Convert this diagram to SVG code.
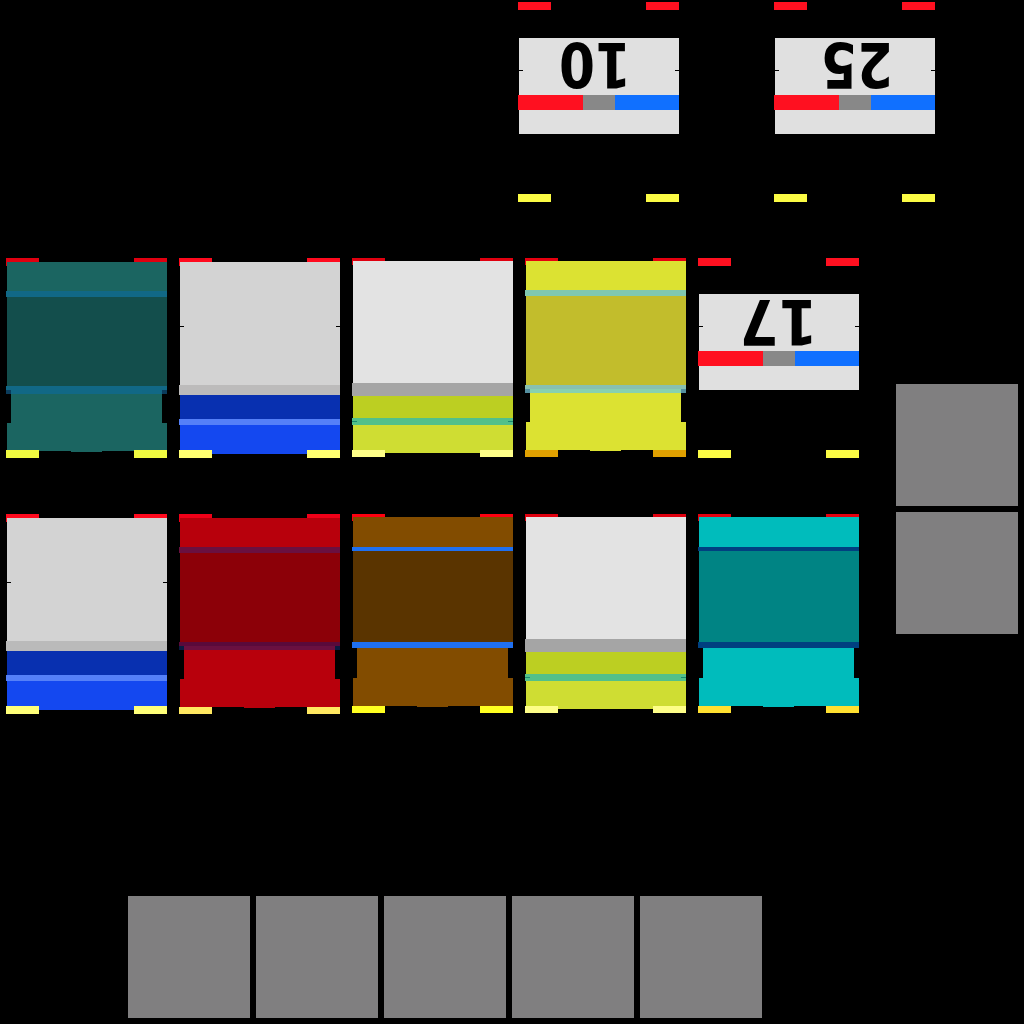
<svg xmlns="http://www.w3.org/2000/svg" width="1024" height="1024" viewBox="0 0 1024 1024">
<style>
.sq{fill:#807f80}
.pbg{fill:#e0e0e0}
.pr{fill:#ff1020}
.pg{fill:#888888}
.pb{fill:#1070ff}
.py{fill:#fbfb44}
.tick{fill:#000}
.num{font-family:"DejaVu Sans","Liberation Sans",sans-serif;font-weight:bold;font-size:62px;fill:#000;text-anchor:middle}
</style>
<rect width="1024" height="1024" fill="#000"/>

<!-- number plates -->
<g id="plate-10">
<rect class="pr" x="518" y="2" width="33" height="8"/><rect class="pr" x="646" y="2" width="33" height="8"/>
<rect class="pbg" x="519" y="38" width="160" height="96"/>
<rect class="tick" x="519" y="70" width="4" height="1"/><rect class="tick" x="675" y="70" width="4" height="1"/>
<rect class="pr" x="518" y="95" width="65" height="15"/><rect class="pg" x="583" y="95" width="32" height="15"/><rect class="pb" x="615" y="95" width="64" height="15"/>
<text class="num" x="595" y="88" textLength="72" lengthAdjust="spacingAndGlyphs" transform="rotate(180 595 65.5)">10</text>
<rect class="py" x="518" y="194" width="33" height="8"/><rect class="py" x="646" y="194" width="33" height="8"/>
</g>
<g id="plate-25">
<rect class="pr" x="774" y="2" width="33" height="8"/><rect class="pr" x="902" y="2" width="33" height="8"/>
<rect class="pbg" x="775" y="38" width="160" height="96"/>
<rect class="tick" x="775" y="70" width="4" height="1"/><rect class="tick" x="931" y="70" width="4" height="1"/>
<rect class="pr" x="774" y="95" width="65" height="15"/><rect class="pg" x="839" y="95" width="32" height="15"/><rect class="pb" x="871" y="95" width="64" height="15"/>
<text class="num" x="857" y="88" textLength="72" lengthAdjust="spacingAndGlyphs" transform="rotate(180 857 65.5)">25</text>
<rect class="py" x="774" y="194" width="33" height="8"/><rect class="py" x="902" y="194" width="33" height="8"/>
</g>
<g id="plate-17">
<rect class="pr" x="698" y="258" width="33" height="8"/><rect class="pr" x="826" y="258" width="33" height="8"/>
<rect class="pbg" x="699" y="294" width="160" height="96"/>
<rect class="tick" x="699" y="326" width="4" height="1"/><rect class="tick" x="855" y="326" width="4" height="1"/>
<rect class="pr" x="698" y="351" width="65" height="15"/><rect class="pg" x="763" y="351" width="32" height="15"/><rect class="pb" x="795" y="351" width="64" height="15"/>
<text class="num" x="778.5" y="344.5" textLength="78" lengthAdjust="spacingAndGlyphs" transform="rotate(180 778.5 322)">17</text>
<rect class="py" x="698" y="450" width="33" height="8"/><rect class="py" x="826" y="450" width="33" height="8"/>
</g>

<!-- type A cars (car 1 coordinates) -->
<g id="car-teal">
<rect fill="#e00010" x="6" y="258" width="33" height="8"/><rect fill="#e00010" x="134" y="258" width="33" height="8"/>
<rect fill="#1b6561" x="7" y="262" width="160" height="29"/>
<rect fill="#116886" x="6" y="291" width="161" height="6"/>
<rect fill="#134e4c" x="7" y="297" width="160" height="89"/>
<rect fill="#116886" x="6" y="386" width="161" height="4"/>
<rect fill="#0b3c5c" x="6" y="390" width="5" height="4"/><rect fill="#0b3c5c" x="162" y="390" width="5" height="4"/>
<rect fill="#116886" x="11" y="390" width="151" height="4"/>
<rect fill="#1b6561" x="11" y="394" width="151" height="29"/>
<rect fill="#1b6561" x="7" y="423" width="160" height="28"/>
<rect fill="#1b6561" x="71" y="451" width="31" height="1"/>
<rect fill="#f0fa40" x="6" y="450" width="33" height="8"/><rect fill="#f0fa40" x="134" y="450" width="33" height="8"/>
</g>
<g id="car-yellow" transform="translate(519,-1)">
<rect fill="#e6000f" x="6" y="259" width="33" height="7"/><rect fill="#e6000f" x="134" y="259" width="33" height="7"/>
<rect fill="#dce232" x="7" y="262" width="160" height="29"/>
<rect fill="#80c8b0" x="6" y="291" width="161" height="6"/>
<rect fill="#c2bd2c" x="7" y="297" width="160" height="89"/>
<rect fill="#88c0b0" x="6" y="386" width="161" height="4"/>
<rect fill="#5590a0" x="6" y="390" width="5" height="4"/><rect fill="#5590a0" x="162" y="390" width="5" height="4"/>
<rect fill="#88d0b0" x="11" y="390" width="151" height="4"/>
<rect fill="#dce232" x="11" y="394" width="151" height="29"/>
<rect fill="#dce232" x="7" y="423" width="160" height="28"/>
<rect fill="#dce232" x="71" y="451" width="31" height="1"/>
<rect fill="#e0a000" x="6" y="451" width="33" height="7"/><rect fill="#e0a000" x="134" y="451" width="33" height="7"/>
</g>
<g id="car-red" transform="translate(173,256)">
<rect fill="#f00018" x="6" y="258" width="33" height="8"/><rect fill="#f00018" x="134" y="258" width="33" height="8"/>
<rect fill="#b8000c" x="7" y="262" width="160" height="29"/>
<rect fill="#6a1040" x="6" y="291" width="161" height="6"/>
<rect fill="#8c0008" x="7" y="297" width="160" height="89"/>
<rect fill="#5a0a3a" x="6" y="386" width="161" height="4"/>
<rect fill="#0a1a40" x="6" y="390" width="5" height="4"/><rect fill="#0a1a40" x="162" y="390" width="5" height="4"/>
<rect fill="#6a1040" x="11" y="390" width="151" height="4"/>
<rect fill="#b8000c" x="11" y="394" width="151" height="29"/>
<rect fill="#b8000c" x="7" y="423" width="160" height="28"/>
<rect fill="#b8000c" x="71" y="451" width="31" height="1"/>
<rect fill="#ffe860" x="6" y="451" width="33" height="7"/><rect fill="#ffe860" x="134" y="451" width="33" height="7"/>
</g>
<g id="car-brown" transform="translate(346,256)">
<rect fill="#ff0010" x="6" y="258" width="33" height="7"/><rect fill="#ff0010" x="134" y="258" width="33" height="7"/>
<rect fill="#824c00" x="7" y="261" width="160" height="30"/>
<rect fill="#2070f0" x="6" y="291" width="161" height="4"/>
<rect fill="#5a3400" x="7" y="295" width="160" height="91"/>
<rect fill="#2070f0" x="6" y="386" width="161" height="6"/>
<rect fill="#824c00" x="11" y="392" width="151" height="30"/>
<rect fill="#824c00" x="7" y="422" width="160" height="28"/>
<rect fill="#824c00" x="71" y="450" width="31" height="1"/>
<rect fill="#ffff20" x="6" y="450" width="33" height="7"/><rect fill="#ffff20" x="134" y="450" width="33" height="7"/>
</g>
<g id="car-cyan" transform="translate(692,256)">
<rect fill="#e6000f" x="6" y="258" width="33" height="7"/><rect fill="#e6000f" x="134" y="258" width="33" height="7"/>
<rect fill="#00bcbc" x="7" y="261" width="160" height="30"/>
<rect fill="#004080" x="6" y="291" width="161" height="4"/>
<rect fill="#008484" x="7" y="295" width="160" height="91"/>
<rect fill="#004080" x="6" y="386" width="161" height="6"/>
<rect fill="#00bcbc" x="11" y="392" width="151" height="30"/>
<rect fill="#00bcbc" x="7" y="422" width="160" height="28"/>
<rect fill="#00bcbc" x="71" y="450" width="31" height="1"/>
<rect fill="#ffe030" x="6" y="450" width="33" height="7"/><rect fill="#ffe030" x="134" y="450" width="33" height="7"/>
</g>

<!-- type B cars -->
<g id="car-blue">
<rect fill="#ff0a1e" x="179" y="258" width="33" height="8"/><rect fill="#ff0a1e" x="307" y="258" width="33" height="8"/>
<rect fill="#d3d3d3" x="180" y="262" width="160" height="123"/>
<rect class="tick" x="180" y="326" width="4" height="1"/><rect class="tick" x="336" y="326" width="4" height="1"/>
<rect fill="#bcbbbb" x="179" y="385" width="161" height="10"/>
<rect fill="#0830b0" x="180" y="395" width="160" height="24"/>
<rect fill="#5580f8" x="179" y="419" width="161" height="6"/>
<rect fill="#1448f0" x="180" y="425" width="160" height="29"/>
<rect fill="#ffff70" x="179" y="450" width="33" height="8"/><rect fill="#ffff70" x="307" y="450" width="33" height="8"/>
</g>
<g id="car-blue-2" transform="translate(-173,256)">
<rect fill="#ff0a1e" x="179" y="258" width="33" height="8"/><rect fill="#ff0a1e" x="307" y="258" width="33" height="8"/>
<rect fill="#d3d3d3" x="180" y="262" width="160" height="123"/>
<rect class="tick" x="180" y="326" width="4" height="1"/><rect class="tick" x="336" y="326" width="4" height="1"/>
<rect fill="#bababa" x="179" y="385" width="161" height="10"/>
<rect fill="#0830b0" x="180" y="395" width="160" height="24"/>
<rect fill="#5580f8" x="179" y="419" width="161" height="6"/>
<rect fill="#1448f0" x="180" y="425" width="160" height="29"/>
<rect fill="#ffff78" x="179" y="450" width="33" height="8"/><rect fill="#ffff78" x="307" y="450" width="33" height="8"/>
</g>
<g id="car-lime">
<rect fill="#e0000f" x="352" y="258" width="33" height="7"/><rect fill="#e0000f" x="480" y="258" width="33" height="7"/>
<rect fill="#e3e3e3" x="353" y="261" width="160" height="122"/>
<rect fill="#a5a5a5" x="352" y="383" width="161" height="13"/>
<rect fill="#bccf22" x="353" y="396" width="160" height="22"/>
<rect fill="#52c08a" x="352" y="418" width="161" height="7"/>
<rect fill="#1a8a70" x="352" y="421" width="5" height="1"/><rect fill="#1a8a70" x="508" y="421" width="5" height="1"/>
<rect fill="#cfdd33" x="353" y="425" width="160" height="28"/>
<rect fill="#fefe88" x="352" y="450" width="33" height="7"/><rect fill="#fefe88" x="480" y="450" width="33" height="7"/>
</g>
<g id="car-lime-2" transform="translate(173,256)">
<rect fill="#e0000f" x="352" y="258" width="33" height="7"/><rect fill="#e0000f" x="480" y="258" width="33" height="7"/>
<rect fill="#e3e3e3" x="353" y="261" width="160" height="122"/>
<rect fill="#a5a5a5" x="352" y="383" width="161" height="13"/>
<rect fill="#bccf22" x="353" y="396" width="160" height="22"/>
<rect fill="#52c08a" x="352" y="418" width="161" height="7"/>
<rect fill="#1a8a70" x="352" y="421" width="5" height="1"/><rect fill="#1a8a70" x="508" y="421" width="5" height="1"/>
<rect fill="#cfdd33" x="353" y="425" width="160" height="28"/>
<rect fill="#fefe88" x="352" y="450" width="33" height="7"/><rect fill="#fefe88" x="480" y="450" width="33" height="7"/>
</g>

<!-- gray tiles -->
<g id="tiles">
<rect class="sq" x="896" y="384" width="122" height="122"/>
<rect class="sq" x="896" y="512" width="122" height="122"/>
<rect class="sq" x="128" y="896" width="122" height="122"/>
<rect class="sq" x="256" y="896" width="122" height="122"/>
<rect class="sq" x="384" y="896" width="122" height="122"/>
<rect class="sq" x="512" y="896" width="122" height="122"/>
<rect class="sq" x="640" y="896" width="122" height="122"/>
</g>
</svg>
